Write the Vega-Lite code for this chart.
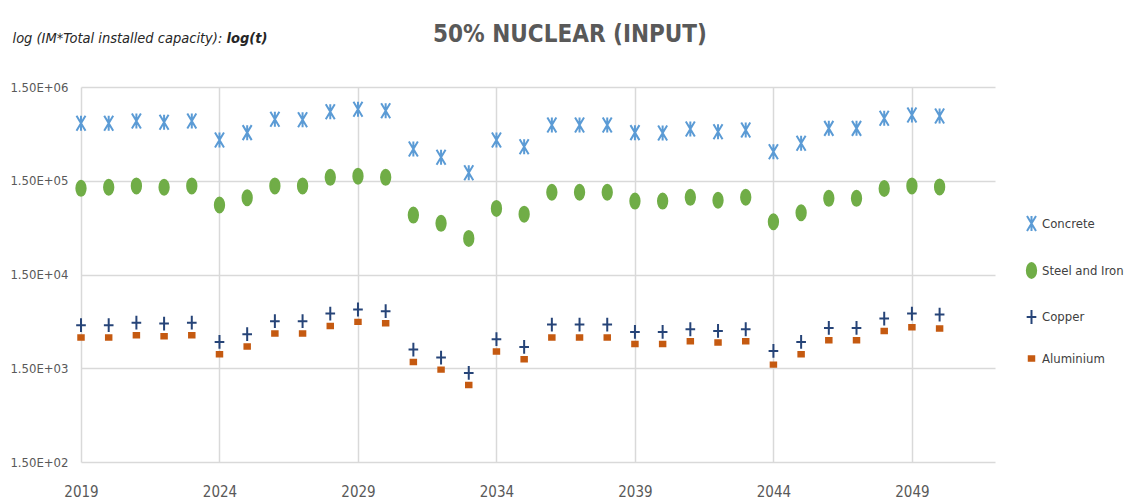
{
  "$schema": "https://vega.github.io/schema/vega-lite/v6.json",
  "width": 914,
  "height": 375,
  "autosize": {"type": "none"},
  "padding": {"left": 81, "top": 87, "right": 133, "bottom": 40},
  "background": "white",
  "config": {
    "font": "DejaVu Sans Condensed, Roboto, sans-serif",
    "view": {"stroke": null}
  },
  "title": {
    "text": "50% NUCLEAR (INPUT)",
    "anchor": "middle",
    "frame": "group",
    "dx": 32,
    "offset": -17,
    "fontSize": 24,
    "fontWeight": "bold",
    "color": "#595959",
    "font": "DejaVu Sans Condensed, Roboto, sans-serif"
  },
  "data": {
    "values": [
      {"year": 2019, "Concrete": 615000, "Steel and Iron": 124500, "Copper": 4315, "Aluminium": 3190},
      {"year": 2020, "Concrete": 615000, "Steel and Iron": 128000, "Copper": 4315, "Aluminium": 3190},
      {"year": 2021, "Concrete": 650000, "Steel and Iron": 132000, "Copper": 4600, "Aluminium": 3375},
      {"year": 2022, "Concrete": 630000, "Steel and Iron": 128000, "Copper": 4500, "Aluminium": 3295},
      {"year": 2023, "Concrete": 650000, "Steel and Iron": 132000, "Copper": 4600, "Aluminium": 3375},
      {"year": 2024, "Concrete": 408000, "Steel and Iron": 82600, "Copper": 2865, "Aluminium": 2115},
      {"year": 2025, "Concrete": 489000, "Steel and Iron": 98900, "Copper": 3460, "Aluminium": 2560},
      {"year": 2026, "Concrete": 678000, "Steel and Iron": 132000, "Copper": 4760, "Aluminium": 3520},
      {"year": 2027, "Concrete": 670000, "Steel and Iron": 132000, "Copper": 4760, "Aluminium": 3520},
      {"year": 2028, "Concrete": 818000, "Steel and Iron": 163000, "Copper": 5750, "Aluminium": 4240},
      {"year": 2029, "Concrete": 867000, "Steel and Iron": 168000, "Copper": 6350, "Aluminium": 4680},
      {"year": 2030, "Concrete": 837000, "Steel and Iron": 163000, "Copper": 6090, "Aluminium": 4530},
      {"year": 2031, "Concrete": 327000, "Steel and Iron": 64600, "Copper": 2376, "Aluminium": 1750},
      {"year": 2032, "Concrete": 267000, "Steel and Iron": 52700, "Copper": 1950, "Aluminium": 1450},
      {"year": 2033, "Concrete": 183000, "Steel and Iron": 36400, "Copper": 1337, "Aluminium": 995},
      {"year": 2034, "Concrete": 408000, "Steel and Iron": 76000, "Copper": 3060, "Aluminium": 2260},
      {"year": 2035, "Concrete": 346000, "Steel and Iron": 66000, "Copper": 2530, "Aluminium": 1870},
      {"year": 2036, "Concrete": 590000, "Steel and Iron": 113000, "Copper": 4390, "Aluminium": 3190},
      {"year": 2037, "Concrete": 590000, "Steel and Iron": 113000, "Copper": 4390, "Aluminium": 3190},
      {"year": 2038, "Concrete": 590000, "Steel and Iron": 113000, "Copper": 4390, "Aluminium": 3190},
      {"year": 2039, "Concrete": 489000, "Steel and Iron": 91000, "Copper": 3660, "Aluminium": 2720},
      {"year": 2040, "Concrete": 485000, "Steel and Iron": 91000, "Copper": 3660, "Aluminium": 2720},
      {"year": 2041, "Concrete": 534000, "Steel and Iron": 99800, "Copper": 3910, "Aluminium": 2910},
      {"year": 2042, "Concrete": 500000, "Steel and Iron": 93000, "Copper": 3750, "Aluminium": 2820},
      {"year": 2043, "Concrete": 521000, "Steel and Iron": 100000, "Copper": 3910, "Aluminium": 2910},
      {"year": 2044, "Concrete": 306000, "Steel and Iron": 54800, "Copper": 2295, "Aluminium": 1640},
      {"year": 2045, "Concrete": 376000, "Steel and Iron": 68400, "Copper": 2865, "Aluminium": 2115},
      {"year": 2046, "Concrete": 543000, "Steel and Iron": 97300, "Copper": 4040, "Aluminium": 2985},
      {"year": 2047, "Concrete": 543000, "Steel and Iron": 97300, "Copper": 4040, "Aluminium": 2985},
      {"year": 2048, "Concrete": 695000, "Steel and Iron": 124000, "Copper": 5085, "Aluminium": 3750},
      {"year": 2049, "Concrete": 753000, "Steel and Iron": 132000, "Copper": 5750, "Aluminium": 4100},
      {"year": 2050, "Concrete": 735000, "Steel and Iron": 129000, "Copper": 5610, "Aluminium": 3980}
    ]
  },
  "transform": [
    {"fold": ["Concrete", "Steel and Iron", "Copper", "Aluminium"], "as": ["series", "value"]}
  ],
  "mark": {"type": "point", "filled": true, "strokeWidth": 2, "opacity": 1},
  "encoding": {
    "x": {
      "field": "year",
      "type": "quantitative",
      "scale": {"domain": [2019, 2052], "nice": false, "zero": false},
      "axis": {
        "values": [2019, 2024, 2029, 2034, 2039, 2044, 2049],
        "format": "d",
        "grid": true,
        "gridColor": "#d9d9d9",
        "gridWidth": 1.5,
        "domain": false,
        "ticks": false,
        "labelFontSize": 15,
        "labelColor": "#595959",
        "labelPadding": 22,
        "labelFlush": false,
        "title": "log(t)",
        "titleFontSize": 14.5,
        "titleFontWeight": "bold",
        "titleFontStyle": "italic",
        "titleColor": "#262626",
        "titleAlign": "left",
        "titleBaseline": "middle",
        "titleX": 145,
        "titleY": -424
      }
    },
    "y": {
      "field": "value",
      "type": "quantitative",
      "scale": {"type": "log", "domain": [150, 1500000], "nice": false},
      "axis": {
        "values": [150, 1500, 15000, 150000, 1500000],
        "labelExpr": "'1.50E+' + (floor(log(datum.value)/LN10 + 0.001) < 10 ? '0' : '') + floor(log(datum.value)/LN10 + 0.001)",
        "grid": true,
        "gridColor": "#d9d9d9",
        "gridWidth": 1.5,
        "domain": false,
        "ticks": false,
        "labelFontSize": 13,
        "labelColor": "#595959",
        "labelPadding": 13,
        "labelFlush": false,
        "title": "log (IM*Total installed capacity):",
        "titleAngle": 0,
        "titleFontSize": 14.5,
        "titleFontWeight": "normal",
        "titleFontStyle": "italic",
        "titleColor": "#262626",
        "titleAlign": "left",
        "titleBaseline": "middle",
        "titleX": -69,
        "titleY": -49
      }
    },
    "color": {
      "field": "series",
      "type": "nominal",
      "scale": {"domain": ["Concrete", "Steel and Iron", "Copper", "Aluminium"], "range": ["#5b9bd5", "#70ad47", "#264478", "#c55a11"]},
      "sort": ["Concrete", "Steel and Iron", "Copper", "Aluminium"],
      "legend": {
        "title": null,
        "orient": "none",
        "legendX": 942,
        "legendY": 128,
        "labelFontSize": 13,
        "labelColor": "#404040",
        "rowPadding": 24,
        "symbolSize": 100,
        "symbolStrokeWidth": 2,
        "labelOffset": 2
      }
    },
    "stroke": {
      "field": "series",
      "type": "nominal",
      "scale": {"domain": ["Concrete", "Steel and Iron", "Copper", "Aluminium"], "range": ["#5b9bd5", "#70ad47", "#264478", "#c55a11"]},
      "sort": ["Concrete", "Steel and Iron", "Copper", "Aluminium"],
      "legend": {
        "title": null,
        "orient": "none",
        "legendX": 942,
        "legendY": 128,
        "labelFontSize": 13,
        "labelColor": "#404040",
        "rowPadding": 24,
        "symbolSize": 100,
        "symbolStrokeWidth": 2,
        "labelOffset": 2
      }
    },
    "shape": {
      "field": "series",
      "type": "nominal",
      "scale": {"domain": ["Concrete", "Steel and Iron", "Copper", "Aluminium"], "range": ["M-0.6,-1L0.6,1M0.6,-1L-0.6,1M0,-1L0,1", "M0,-1A0.62,1 0 1 1 0,1A0.62,1 0 1 1 0,-1Z", "M-0.7,0L0.7,0M0,-1L0,1", "M-1,-0.8L1,-0.8L1,0.8L-1,0.8Z"]},
      "sort": ["Concrete", "Steel and Iron", "Copper", "Aluminium"],
      "legend": {
        "title": null,
        "orient": "none",
        "legendX": 942,
        "legendY": 128,
        "labelFontSize": 13,
        "labelColor": "#404040",
        "rowPadding": 24,
        "symbolSize": 100,
        "symbolStrokeWidth": 2,
        "labelOffset": 2
      }
    },
    "size": {
      "field": "series",
      "type": "nominal",
      "scale": {"type": "ordinal", "domain": ["Concrete", "Steel and Iron", "Copper", "Aluminium"], "range": [225, 225, 190, 30]},
      "legend": null
    }
  }
}
